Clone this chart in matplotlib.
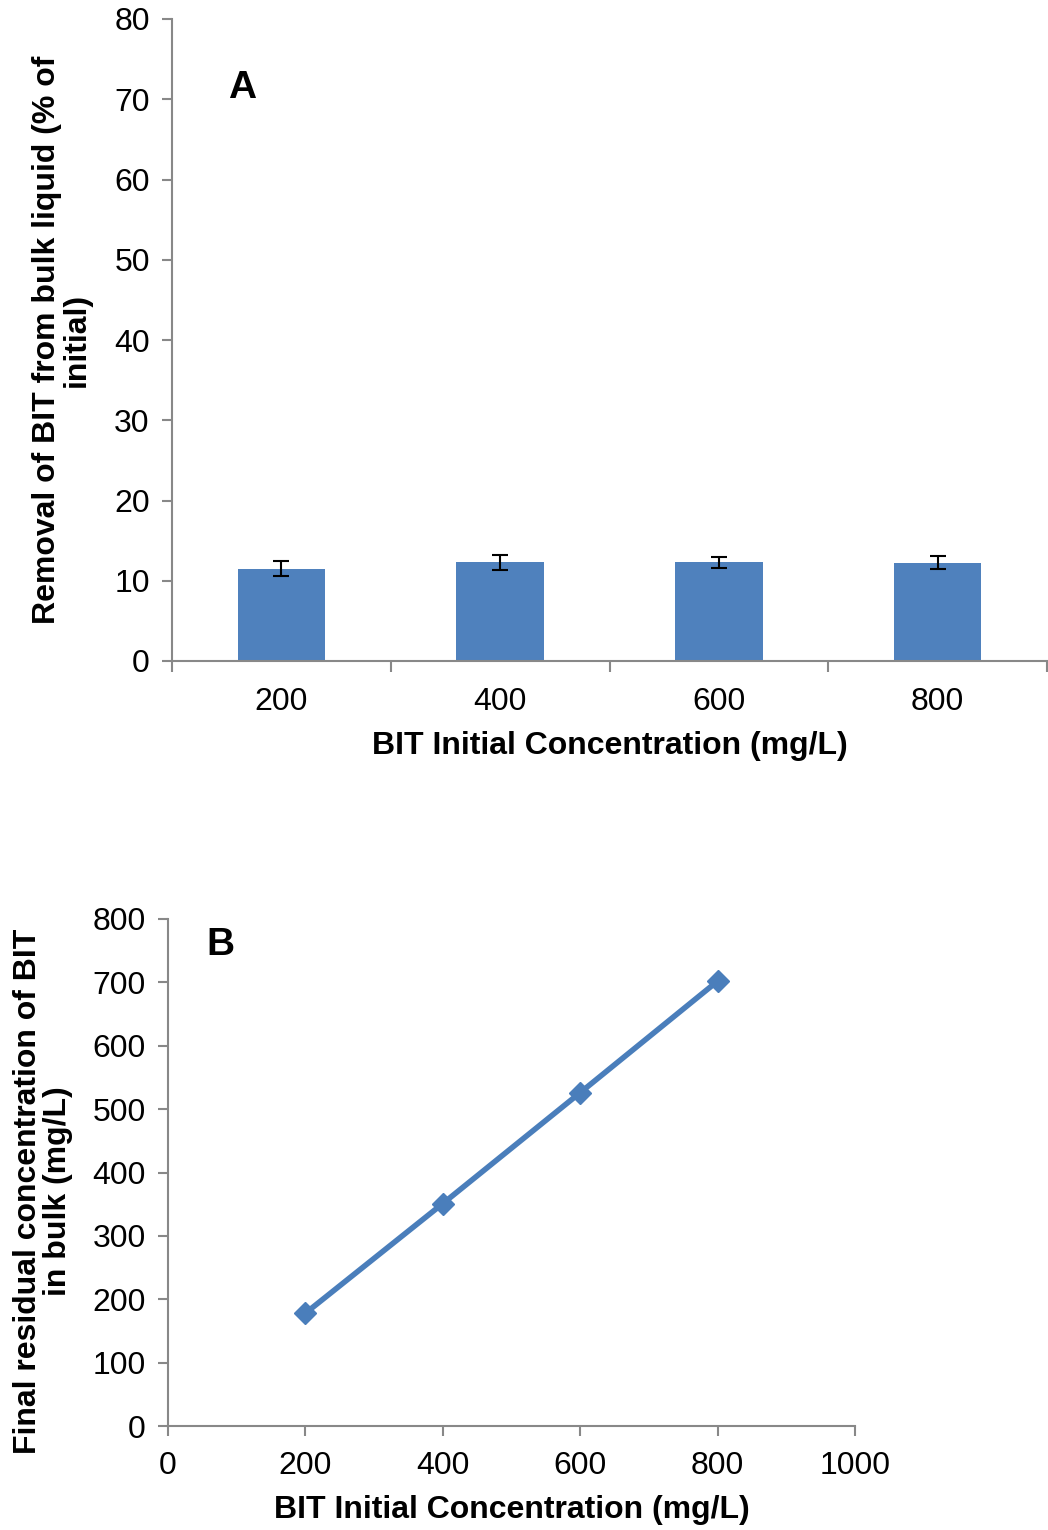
import matplotlib
matplotlib.use("Agg")
import matplotlib.pyplot as plt
import numpy as np

plt.rcParams['font.family'] = ['Liberation Sans', 'DejaVu Sans']

# Panel A: removal of BIT from bulk liquid
conc_labels = ["200", "400", "600", "800"]
removal_pct = [11.5, 12.3, 12.3, 12.25]
removal_err = [0.95, 0.95, 0.72, 0.8]

# Panel B: final residual concentration vs initial concentration
initial_conc = [200, 400, 600, 800]
residual_conc = [178, 351, 526, 702]
residual_err = [3, 3, 3, 5]

bar_color = "#4F81BD"
line_color = "#4A7EBB"
axis_gray = "#888888"
fs_tick = 23
fs_label = 23

fig = plt.figure(figsize=(10.48, 15.30), dpi=100)

def style_axes(ax):
    for s in ("top", "right"):
        ax.spines[s].set_visible(False)
    for s in ("left", "bottom"):
        ax.spines[s].set_color(axis_gray)
        ax.spines[s].set_linewidth(1.5)
    ax.tick_params(axis="both", which="both", direction="out", color=axis_gray,
                   width=1.5, length=7, labelsize=fs_tick, labelcolor="black")

# ---- Panel A ----
axA = fig.add_axes([172/1048, 1-661/1530, (1047-172)/1048, (661-19)/1530])
pos = np.arange(len(conc_labels))
axA.bar(pos, removal_pct, width=0.4, color=bar_color, zorder=2)
axA.errorbar(pos, removal_pct, yerr=removal_err, fmt="none", ecolor="black",
             elinewidth=1.5, capsize=6, capthick=1.5, zorder=3)
axA.set_xlim(-0.5, 3.5)
axA.set_ylim(0, 80)
axA.set_yticks(np.arange(0, 81, 10))
axA.set_xticks(pos)
axA.set_xticklabels(conc_labels)
axA.set_xticks(np.arange(-0.5, 3.6, 1.0), minor=True)
style_axes(axA)
axA.tick_params(axis="x", which="major", length=0, pad=19)
axA.tick_params(axis="x", which="minor", length=8)
axA.tick_params(axis="y", pad=9)

fig.text(242/1048, 1-88/1530, "A", fontsize=28, fontweight="bold", ha="center", va="center")
fig.text(62/1048, 1-340/1530, "Removal of BIT from bulk liquid (% of\ninitial)",
         rotation=90, ha="center", va="center", multialignment="center",
         fontsize=fs_label, fontweight="bold", linespacing=1.0)
fig.text(610/1048, 1-746/1530, "BIT Initial Concentration (mg/L)",
         ha="center", va="center", fontsize=fs_label, fontweight="bold")

# ---- Panel B ----
axB = fig.add_axes([168/1048, 1-1426/1530, (855-168)/1048, (1426-919)/1530])
axB.errorbar(initial_conc, residual_conc, yerr=residual_err, color=line_color,
             ecolor="black", elinewidth=1.2, capsize=4, lw=4, marker="D",
             markersize=11, markerfacecolor=line_color, markeredgecolor=line_color,
             zorder=3)
axB.set_xlim(0, 1000)
axB.set_ylim(0, 800)
axB.set_xticks(np.arange(0, 1001, 200))
axB.set_yticks(np.arange(0, 801, 100))
style_axes(axB)
axB.tick_params(axis="x", pad=11)
axB.tick_params(axis="y", pad=9)

fig.text(220/1048, 1-945/1530, "B", fontsize=28, fontweight="bold", ha="center", va="center")
fig.text(43/1048, 1-1191/1530, "Final residual concentration of BIT\nin bulk (mg/L)",
         rotation=90, ha="center", va="center", multialignment="center",
         fontsize=fs_label, fontweight="bold", linespacing=1.0)
fig.text(512/1048, 1-1510/1530, "BIT Initial Concentration (mg/L)",
         ha="center", va="center", fontsize=fs_label, fontweight="bold")

fig.savefig("out.png", dpi=100)
